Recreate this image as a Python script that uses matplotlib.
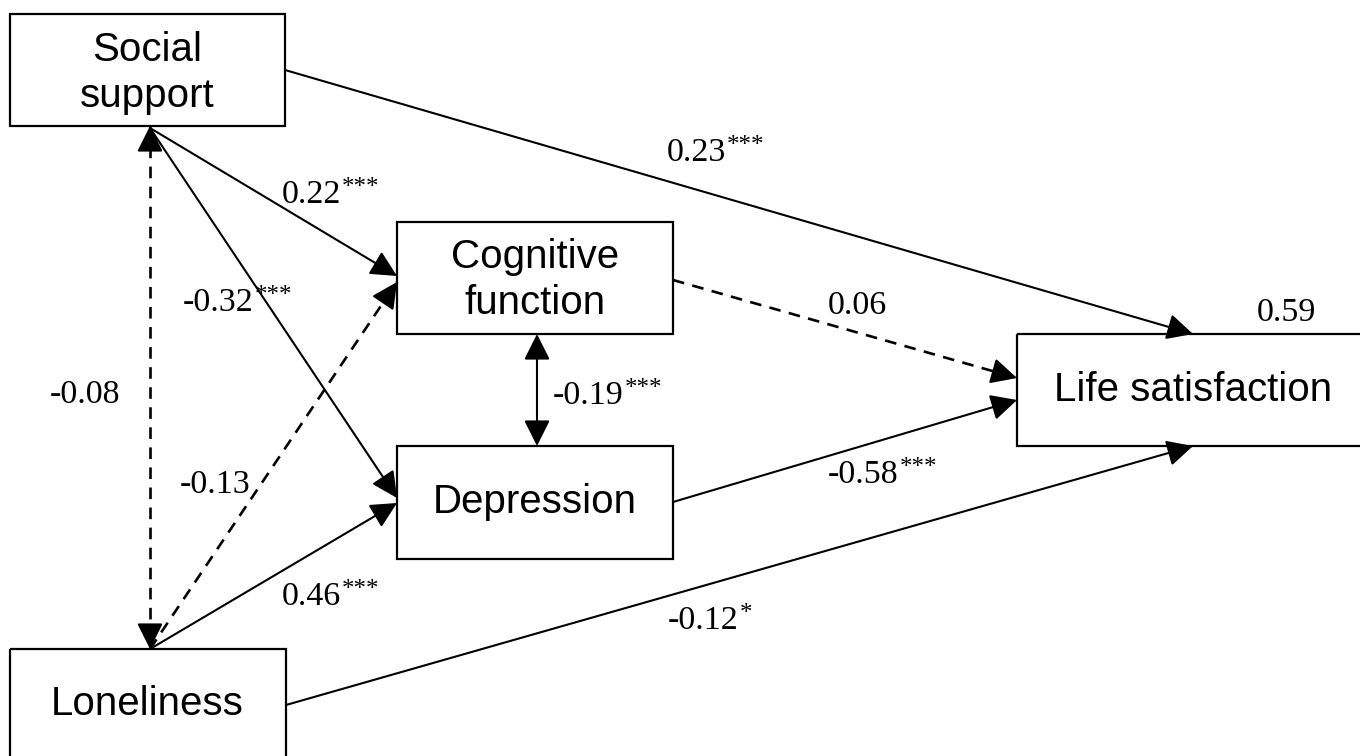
import numpy as np
import matplotlib.pyplot as plt
from matplotlib.patches import Rectangle, FancyArrowPatch

# nodes of the path model
node_names = ["Social\nsupport", "Cognitive\nfunction", "Depression",
              "Life satisfaction", "Loneliness"]
# box corners in pixel coords (x0, y0, x1, y1), y goes down
node_boxes = [(10, 14, 285, 126), (397, 222, 673, 334), (397, 446, 673, 559),
              (1017, 334, 1370, 446), (10, 649, 286, 770)]
node_text_xy = [(147, 73), (535, 280), (535, 502), (1193, 390), (147, 704)]

# path coefficients
coefs = ["0.23", "0.22", "-0.32", "-0.08", "-0.13", "0.46",
         "-0.19", "0.06", "-0.58", "-0.12", "0.59"]
stars = ["***", "***", "***", "", "", "***", "***", "", "***", "*", ""]
label_pos = [(667, 161), (282, 203), (183, 311), (50, 403), (180, 493),
             (282, 605), (553, 404), (828, 314), (828, 483), (668, 629),
             (1257, 321)]

# arrows: start, end, style, dashed
arrows = [
    ((285, 70), (1193, 334), "-|>", False),    # social -> life
    ((150, 128), (397, 276), "-|>", False),    # social -> cognitive
    ((150, 128), (397, 498), "-|>", False),    # social -> depression
    ((150, 126), (150, 649), "<|-|>", True),   # social <-> loneliness
    ((150, 649), (397, 282), "-|>", True),     # loneliness -> cognitive
    ((150, 649), (397, 503), "-|>", False),    # loneliness -> depression
    ((537, 334), (537, 446), "<|-|>", False),  # cognitive <-> depression
    ((673, 280), (1017, 378), "-|>", True),    # cognitive -> life
    ((673, 502), (1017, 400), "-|>", False),   # depression -> life
    ((286, 705), (1193, 446), "-|>", False),   # loneliness -> life
]

W, H = 1360, 756
HEAD = 22  # head length in px
fig = plt.figure(figsize=(13.6, 7.56), dpi=100)
ax = fig.add_axes([0, 0, 1, 1])
ax.set_xlim(0, W)
ax.set_ylim(H, 0)
ax.axis("off")

for name, (x0, y0, x1, y1), (tx, ty) in zip(node_names, node_boxes, node_text_xy):
    ax.add_patch(Rectangle((x0, y0), x1 - x0, y1 - y0, fill=False,
                           ec="black", lw=1.6, zorder=3))
    ax.text(tx, ty, name, ha="center", va="center", fontsize=29,
            family="Liberation Sans", linespacing=1.28, zorder=4)


def head(p_from, p_to):
    # solid filled arrowhead ending at p_to, pointing away from p_from
    a, b = np.array(p_from, float), np.array(p_to, float)
    d = (b - a) / np.hypot(*(b - a))
    ax.add_patch(FancyArrowPatch(tuple(b - d * (HEAD + 2)), tuple(b),
                                 arrowstyle="-|>", mutation_scale=40,
                                 shrinkA=0, shrinkB=0, color="black",
                                 lw=1.5, zorder=2))


for start, end, style, dashed in arrows:
    if dashed:
        ax.plot([start[0], end[0]], [start[1], end[1]], color="black",
                lw=1.9, linestyle=(0, (4.4, 3.2)), zorder=2)
        head(start, end)
        if style == "<|-|>":
            head(end, start)
    else:
        ax.add_patch(FancyArrowPatch(start, end, arrowstyle=style,
                                     mutation_scale=40, shrinkA=0, shrinkB=0,
                                     color="black", lw=1.5, zorder=2))

for c, s, (x, y) in zip(coefs, stars, label_pos):
    t = ax.text(x, y, c, ha="left", va="baseline", fontsize=24.5,
                family="Liberation Serif", zorder=5)
    if s:
        ax.annotate(s, xy=(1, 1), xycoords=t, xytext=(0.5, 2),
                    textcoords="offset points", ha="left", va="top",
                    fontsize=18, family="Liberation Serif")

fig.savefig("out.png", dpi=100)
